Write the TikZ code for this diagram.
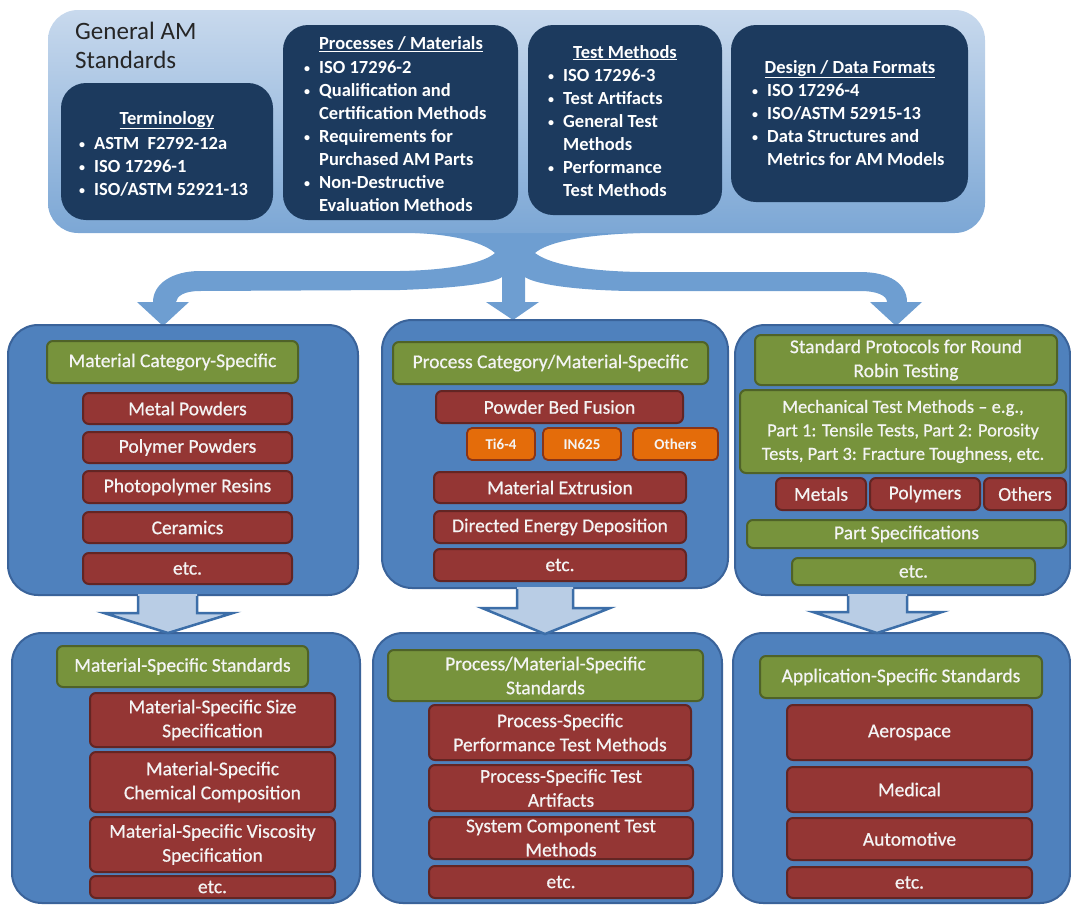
\documentclass[tikz,border=0pt]{standalone}
\usepackage{fontspec}
\setmainfont{Carlito}
\newfontfamily\semib{Carlito}[FakeBold=0.6,Ligatures=TeX]
\usetikzlibrary{calc}
\definecolor{navy}{HTML}{1C3A5E}
\definecolor{pfill}{HTML}{4F81BD}
\definecolor{pdraw}{HTML}{3A639A}
\definecolor{gfill}{HTML}{77933C}
\definecolor{gdraw}{HTML}{4F6228}
\definecolor{rfill}{HTML}{943634}
\definecolor{rdraw}{HTML}{632523}
\definecolor{ofill}{HTML}{E46C0A}
\definecolor{odraw}{HTML}{8A3416}
\definecolor{atop}{HTML}{C8D9ED}
\definecolor{abot}{HTML}{7CA7D5}
\definecolor{branch}{HTML}{6E9ED1}
\definecolor{darrow}{HTML}{B9CDE5}
\definecolor{dline}{HTML}{3C6EA8}
\definecolor{ttxt}{HTML}{F4F4F4}
\definecolor{titlegray}{HTML}{262626}
\newcommand\topfont{\fontsize{18.5}{23}\selectfont\bfseries}
\newcommand\pfont{\semib\fontsize{19.5}{24}\selectfont}
\newcommand\mfont{\semib\fontsize{18.5}{23.5}\selectfont}
\newcommand\ofont{\fontsize{15}{18}\selectfont\bfseries}
\newcommand\bul{\raisebox{1.3pt}{\fontsize{12}{12}\selectfont\textbullet}}
\newcommand\mybox[7]{\node[#2, inner sep=0pt, minimum width={#5-#3}, minimum height={#6-#4}] (#1) at ({(#3+#5)/2},{(#4+#6)/2}) {#7};}
\tikzset{
  bigbox/.style={top color=atop, bottom color=abot, rounded corners=30pt},
  nbox/.style={fill=navy, rounded corners=25pt},
  panel/.style={draw=pdraw, fill=pfill, line width=2pt, rounded corners=30pt},
  gbox/.style={draw=gdraw, fill=gfill, line width=2pt, rounded corners=6pt, text=ttxt, font=\pfont, align=center},
  rbox/.style={draw=rdraw, fill=rfill, line width=2pt, rounded corners=6pt, text=ttxt, font=\pfont, align=center},
  obox/.style={draw=odraw, fill=ofill, line width=1.8pt, rounded corners=5pt, text=ttxt, font=\ofont},
  ttl/.style={text=white, font=\topfont, inner sep=0pt},
  lst/.style={text=white, font=\topfont, inner sep=0pt},
  gtitle/.style={text=titlegray, font=\fontsize{25}{29}\selectfont, inner sep=0pt},
  darr/.style={fill=darrow},
  darrline/.style={draw=dline, line width=2.5pt, line join=miter},
}
\begin{document}
\begin{tikzpicture}[x=1pt,y=-1pt]
\useasboundingbox (0,0) rectangle (1071,905);

% branching arrow
\fill[branch] (415,229) -- (415,233) .. controls (460,235) and (485,244) .. (495,253)
 .. controls (485,262) and (455,270) .. (400,271) -- (200,271)
 .. controls (172,271) and (153,284) .. (153,302)
 -- (137,302) -- (163,326) -- (189,302) -- (176,302)
 .. controls (177,296) and (184,291) .. (200,291) -- (400,290)
 .. controls (460,288) and (494,283) .. (502,277) -- (502,302)
 -- (486,302) -- (513,320) -- (539,302) -- (525,302) -- (525,277)
 .. controls (533,283) and (567,290) .. (630,291) -- (860,291)
 .. controls (878,291) and (887,296) .. (887,302)
 -- (870,302) -- (896,326) -- (922,302) -- (907,302)
 .. controls (907,284) and (890,272) .. (860,272) -- (640,272)
 .. controls (580,271) and (548,263) .. (535,253)
 .. controls (545,244) and (575,235) .. (640,233) -- (640,229) -- cycle;

% top area
\mybox{gen}{bigbox}{48}{10}{985}{233}{}
\node[gtitle, anchor=base west] (gen1) at (75,39) {General AM};
\node[gtitle, anchor=base west] (gen2) at (75,68) {Standards};

\mybox{term}{nbox}{61}{83}{273}{220}{}
\mybox{proc}{nbox}{283}{25}{518}{220}{}
\mybox{test}{nbox}{528}{25}{722}{215}{}
\mybox{des}{nbox}{731}{25}{968}{202}{}

\node[ttl, anchor=base] (termT) at (167,124) {\underline{Terminology}};
\node[lst, anchor=north west] (termL) at (79,133) {\begin{tabular}{@{}l@{\hspace{9pt}}l@{}}
\bul & ASTM\ \ F2792-12a\\
\bul & ISO 17296-1\\
\bul & ISO/ASTM 52921-13\end{tabular}};

\node[ttl, anchor=base] (procT) at (401,49) {\underline{Processes / Materials}};
\node[lst, anchor=north west] (procL) at (304,57) {\begin{tabular}{@{}l@{\hspace{9pt}}l@{}}
\bul & ISO 17296-2\\
\bul & Qualification and\\
 & Certification Methods\\
\bul & Requirements for\\
 & Purchased AM Parts\\
\bul & Non-Destructive\\
 & Evaluation Methods\end{tabular}};

\node[ttl, anchor=base] (testT) at (625,58) {\underline{Test Methods}};
\node[lst, anchor=north west] (testL) at (548,65) {\begin{tabular}{@{}l@{\hspace{9pt}}l@{}}
\bul & ISO 17296-3\\
\bul & Test Artifacts\\
\bul & General Test\\
 & Methods\\
\bul & Performance\\
 & Test Methods\end{tabular}};

\node[ttl, anchor=base] (desT) at (850,73) {\underline{Design / Data Formats}};
\node[lst, anchor=north west] (desL) at (752,80) {\begin{tabular}{@{}l@{\hspace{9pt}}l@{}}
\bul & ISO 17296-4\\
\bul & ISO/ASTM 52915-13\\
\bul & Data Structures and\\
 & Metrics for AM Models\end{tabular}};

% middle panels
\mybox{p1}{panel}{8}{325}{358}{595}{}
\mybox{p2}{panel}{382}{320}{728}{588}{}
\mybox{p3}{panel}{735}{325}{1070}{595}{}

\mybox{g1}{gbox}{47}{341}{298}{383}{Material Category-Specific}
\mybox{r11}{rbox}{83}{393}{292}{424}{Metal Powders}
\mybox{r12}{rbox}{83}{432}{292}{463}{Polymer Powders}
\mybox{r13}{rbox}{83}{471}{292}{503}{Photopolymer Resins}
\mybox{r14}{rbox}{83}{512}{292}{543}{Ceramics}
\mybox{r15}{rbox}{83}{553}{292}{584}{etc.}

\mybox{g2}{gbox}{393}{342}{708}{384}{Process Category/Material-Specific}
\mybox{r21}{rbox}{436}{391}{683}{423}{Powder Bed Fusion}
\mybox{o1}{obox}{467}{428}{535}{460}{Ti6-4}
\mybox{o2}{obox}{543}{428}{621}{460}{IN625}
\mybox{o3}{obox}{633}{428}{718}{460}{Others}
\mybox{r22}{rbox}{434}{472}{686}{503}{Material Extrusion}
\mybox{r23}{rbox}{434}{511}{686}{543}{Directed Energy Deposition}
\mybox{r24}{rbox}{434}{549}{686}{581}{etc.}

\mybox{g31}{gbox}{755}{335}{1057}{385}{Standard Protocols for Round\\Robin Testing}
\mybox{g32}{gbox, font=\mfont}{740}{390}{1066}{473}{Mechanical Test Methods – e.g.,\\Part 1: Tensile Tests, Part 2: Porosity\\Tests, Part 3: Fracture Toughness, etc.}
\mybox{r31}{rbox}{776}{478}{866}{510}{Metals}
\mybox{r32}{rbox}{870}{478}{980}{510}{Polymers}
\mybox{r33}{rbox}{984}{478}{1066}{510}{Others}
\mybox{g33}{gbox}{747}{520}{1066}{548}{Part Specifications}
\mybox{g34}{gbox}{792}{558}{1035}{585}{etc.}

% bottom panels
\mybox{q1}{panel}{12}{633}{360}{903}{}
\mybox{q2}{panel}{373}{633}{722}{903}{}
\mybox{q3}{panel}{733}{633}{1070}{903}{}

\mybox{h1}{gbox}{57}{646}{308}{687}{Material-Specific Standards}
\mybox{s11}{rbox}{90}{693}{335}{747}{Material-Specific Size\\Specification}
\mybox{s12}{rbox}{90}{752}{335}{812}{Material-Specific\\Chemical Composition}
\mybox{s13}{rbox}{90}{817}{335}{872}{Material-Specific Viscosity\\Specification}
\mybox{s14}{rbox}{90}{876}{335}{898}{etc.}

\mybox{h2}{gbox}{388}{650}{703}{701}{Process/Material-Specific\\Standards}
\mybox{s21}{rbox}{429}{705}{691}{760}{Process-Specific\\Performance Test Methods}
\mybox{s22}{rbox}{429}{765}{693}{811}{Process-Specific Test\\Artifacts}
\mybox{s23}{rbox}{429}{817}{693}{859}{System Component Test\\Methods}
\mybox{s24}{rbox}{429}{866}{693}{898}{etc.}

\mybox{h3}{gbox}{760}{656}{1042}{698}{Application-Specific Standards}
\mybox{s31}{rbox}{787}{705}{1032}{760}{Aerospace}
\mybox{s32}{rbox}{787}{767}{1032}{812}{Medical}
\mybox{s33}{rbox}{787}{818}{1032}{860}{Automotive}
\mybox{s34}{rbox}{787}{867}{1032}{898}{etc.}

% down arrows
\fill[darr] (138,594) -- (138,613) -- (104,613) -- (168,633) -- (233,613) -- (197,613) -- (197,594) -- cycle;
\draw[darrline] (138,596) -- (138,613) -- (104,613) -- (168,633) -- (233,613) -- (197,613) -- (197,596);
\fill[darr] (517,587) -- (517,608) -- (482,608) -- (545,634) -- (610,608) -- (573,608) -- (573,587) -- cycle;
\draw[darrline] (517,589) -- (517,608) -- (482,608) -- (545,634) -- (610,608) -- (573,608) -- (573,589);
\fill[darr] (848,594) -- (848,612) -- (813,612) -- (877,633) -- (942,612) -- (907,612) -- (907,594) -- cycle;
\draw[darrline] (848,596) -- (848,612) -- (813,612) -- (877,633) -- (942,612) -- (907,612) -- (907,596);
\end{tikzpicture}
\end{document}
